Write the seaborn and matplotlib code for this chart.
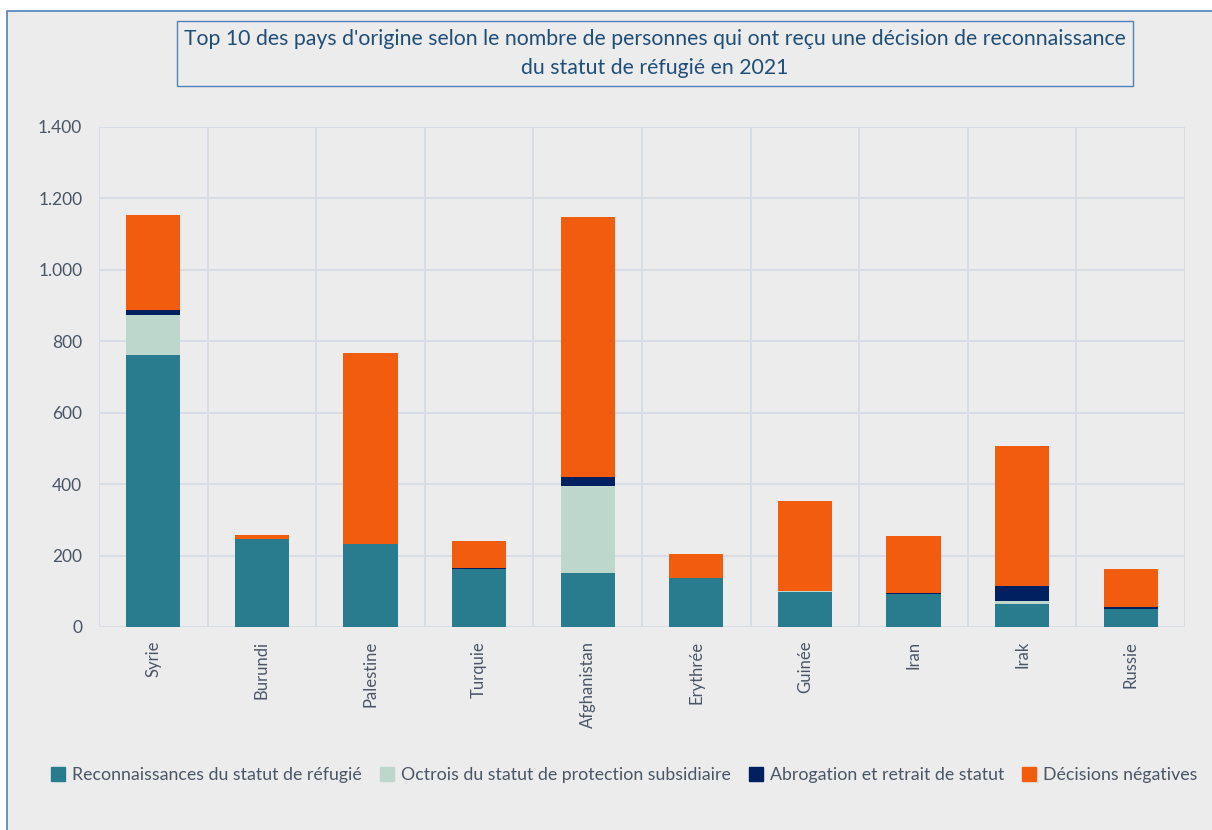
import numpy as np
import pandas as pd
import matplotlib.pyplot as plt
import matplotlib.patches as mpatches
from matplotlib.ticker import FuncFormatter, MultipleLocator
import seaborn as sns

pays = ["Syrie", "Burundi", "Palestine", "Turquie", "Afghanistan",
        "Erythrée", "Guinée", "Iran", "Irak", "Russie"]
reconnaissance = [761, 246, 231, 162, 151, 138, 99, 92, 65, 50]
protection_sub = [113, 0, 2, 0, 243, 0, 1, 0, 8, 0]
abrogation = [13, 0, 0, 2, 26, 0, 0, 2, 42, 6]
negatives = [266, 11, 533, 76, 728, 65, 252, 162, 393, 107]

series_names = ["Reconnaissances du statut de réfugié",
                "Octrois du statut de protection subsidiaire",
                "Abrogation et retrait de statut",
                "Décisions négatives"]
colors = ["#287C8E", "#BDD7CD", "#002060", "#F25C0F"]

df = pd.DataFrame({"pays": pays, series_names[0]: reconnaissance,
                   series_names[1]: protection_sub, series_names[2]: abrogation,
                   series_names[3]: negatives})

sns.set_style("white")
plt.rcParams["font.family"] = ["Lato", "DejaVu Sans"]

bg = "#ECECEC"
txt = "#4A5566"
fig = plt.figure(figsize=(12.12, 8.3), dpi=100, facecolor="white")
# outer chart frame
fig.patches.append(mpatches.Rectangle((0.006, -0.01), 1.0, 0.9967, transform=fig.transFigure,
                                      facecolor=bg, edgecolor="#4F81BD", lw=1.2, zorder=0))
ax = fig.add_axes([0.0817, 0.2446, 0.8960, 0.6024])
ax.set_zorder(2)
ax.set_facecolor(bg)

# stacked bars: draw cumulative totals, biggest first
cum = df[series_names].cumsum(axis=1)
for name, col in reversed(list(zip(series_names, colors))):
    sns.barplot(x=df["pays"], y=cum[name], color=col, width=0.5, ax=ax,
                saturation=1, edgecolor="none", linewidth=0, zorder=3)

ax.set_ylim(0, 1400)
ax.set_xlim(-0.5, 9.5)
ax.yaxis.set_major_locator(MultipleLocator(200))
ax.yaxis.set_major_formatter(FuncFormatter(lambda v, p: f"{int(v):,}".replace(",", ".")))
ax.set_xticks(range(10))
ax.set_xticks(np.arange(-0.5, 10, 1), minor=True)
ax.grid(True, axis="y", which="major", color="#D8DDE5", lw=1.4, zorder=0)
ax.grid(True, axis="x", which="minor", color="#D8DDE5", lw=1.4, zorder=0)
ax.grid(False, axis="x", which="major")
ax.set_axisbelow(True)
for s in ax.spines.values():
    s.set_visible(False)
ax.tick_params(axis="both", which="both", length=0)
ax.tick_params(axis="y", labelsize=12.5, labelcolor=txt, pad=12)
ax.tick_params(axis="x", labelsize=12, labelcolor=txt, pad=10)
plt.setp(ax.get_xticklabels(), rotation=90)
ax.set_xlabel("")
ax.set_ylabel("")

# title box
fig.patches.append(mpatches.Rectangle((0.146, 0.8964), 0.789, 0.0783, transform=fig.transFigure,
                                      facecolor=bg, edgecolor="#4F81BD", lw=1.0, zorder=1))
fig.text(0.5404, 0.9355,
         "Top 10 des pays d'origine selon le nombre de personnes qui ont reçu une décision de reconnaissance\ndu statut de réfugié en 2021",
         ha="center", va="center", fontsize=15.3, color="#1F4E79", linespacing=1.6)

handles = [mpatches.Patch(color=c, label=n) for n, c in zip(series_names, colors)]
fig.legend(handles=handles, loc="center", bbox_to_anchor=(0.515, 0.066), ncol=4,
           frameon=False, fontsize=12.8, labelcolor=txt, handlelength=0.8, handleheight=0.8,
           handletextpad=0.4, columnspacing=1.0)

fig.savefig("out.png", dpi=100, facecolor="white")
